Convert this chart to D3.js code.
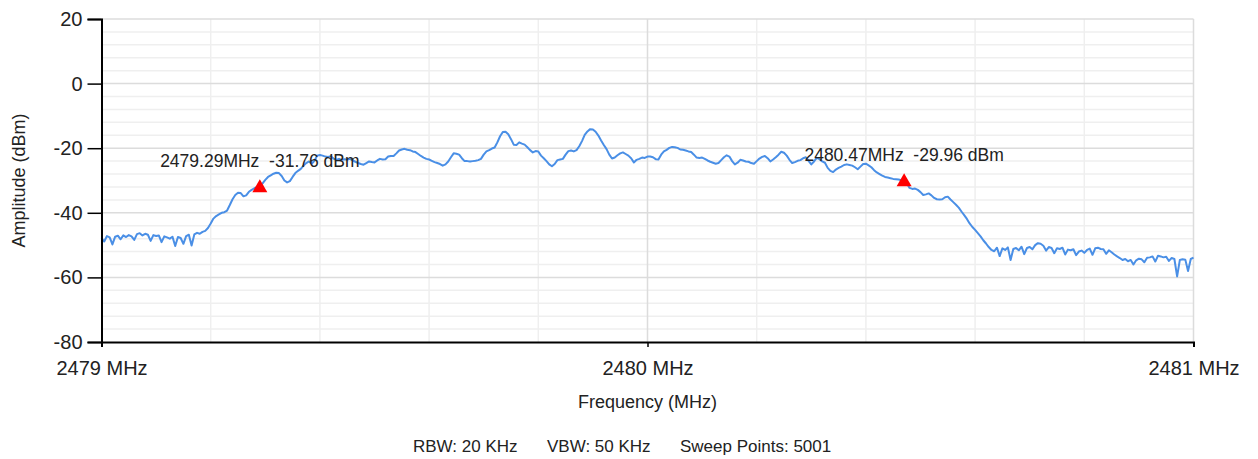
<!DOCTYPE html>
<html>
<head>
<meta charset="utf-8">
<script src="https://cdn.jsdelivr.net/npm/d3@7"></script>
<style>
  body { margin: 0; background: #fff; }
  svg { font-family: "Liberation Sans", Arial, sans-serif; }
</style>
</head>
<body>
<div id="chart"></div>
<script>
// sweep: 2479 .. 2481 MHz, one reading every 0.005 MHz
const sweepStart = 2479;
const sweepStep = 0.005;
const amplitude = [
  -47.8, -48.9, -47.2, -47.6, -49.8, -47.4, -47.1, -48.2, -47.0, -47.5,
  -46.9, -47.3, -48.4, -46.6, -46.3, -47.0, -46.5, -46.8, -48.7, -46.9,
  -47.2, -47.0, -49.1, -47.3, -47.6, -48.0, -47.4, -50.3, -47.5, -47.8,
  -49.6, -47.2, -46.8, -50.1, -46.7, -46.2, -46.5, -45.9, -45.6, -44.7,
  -43.3, -41.8, -41.0, -40.5, -40.0, -39.8, -39.3, -37.6, -35.8, -34.5,
  -33.8, -33.9, -34.9, -34.6, -33.5, -32.9, -32.4, -32.1, -31.8, -30.9,
  -29.8, -28.9, -28.4, -27.9, -27.6, -27.7, -28.6, -30.0, -30.6, -30.2,
  -28.9, -27.7, -27.0, -26.4, -25.4, -24.6, -24.1, -24.8, -23.9, -22.3,
  -22.1, -22.3, -22.6, -22.7, -22.5, -23.2, -23.6, -23.3, -23.6, -23.4,
  -23.5, -23.3, -23.8, -24.2, -24.6, -24.9, -25.1, -24.6, -24.1, -24.3,
  -24.4, -23.8, -23.3, -23.5, -23.4, -22.6, -22.4, -22.4, -21.6, -20.7,
  -20.4, -20.2, -20.5, -20.6, -21.0, -21.2, -21.8, -22.4, -22.9, -23.3,
  -23.5, -23.9, -24.3, -24.6, -24.9, -25.4, -25.0, -24.1, -22.8, -21.6,
  -21.7, -22.0, -23.1, -24.0, -24.0, -24.1, -24.0, -23.9, -23.7, -23.3,
  -22.0, -21.0, -20.6, -20.1, -19.8, -18.2, -16.3, -15.0, -14.9, -15.7,
  -17.2, -18.9, -19.0, -18.2, -18.6, -18.9, -19.7, -20.6, -21.3, -20.9,
  -21.0, -22.3, -23.1, -24.0, -25.0, -25.6, -24.9, -23.7, -23.5, -23.3,
  -22.0, -20.9, -20.7, -21.0, -20.6, -19.4, -17.8, -15.9, -14.8, -14.1,
  -14.2, -14.9, -16.1, -17.6, -19.0, -20.3, -22.0, -23.2, -22.9, -22.2,
  -21.6, -21.3, -21.8, -22.3, -23.1, -24.4, -23.6, -23.3, -22.9, -23.0,
  -22.6, -22.6, -22.8, -23.4, -23.5, -22.0, -21.0, -20.5, -19.9, -19.6,
  -19.7, -19.9, -20.4, -20.5, -20.7, -21.0, -21.2, -22.0, -22.9, -23.0,
  -22.9, -23.3, -23.8, -24.2, -24.5, -24.8, -24.6, -23.7, -22.8, -22.2,
  -22.6, -24.0, -25.0, -24.5, -23.6, -23.8, -24.1, -24.2, -24.6, -24.8,
  -24.0, -23.2, -22.7, -22.4, -23.1, -24.1, -23.5, -22.8, -22.0, -21.1,
  -21.4, -22.3, -23.6, -24.6, -24.3, -23.9, -23.7, -23.1, -22.8, -23.9,
  -25.0, -24.1, -23.0, -23.4, -24.1, -24.5, -26.1, -27.0, -27.4, -26.6,
  -26.1, -25.7, -25.2, -25.0, -25.2, -25.4, -25.9, -26.5, -25.7, -24.9,
  -24.8, -25.3, -25.9, -26.8, -27.5, -28.0, -28.5, -28.9, -29.1, -29.3,
  -29.5, -29.6, -29.7, -29.9, -30.0, -30.9, -32.3, -32.6, -32.5, -32.9,
  -33.6, -34.5, -34.3, -34.0, -34.6, -35.4, -35.8, -35.9, -35.8, -35.2,
  -35.0, -35.9, -36.7, -37.5, -38.4, -39.6, -40.7, -41.9, -43.3, -44.4,
  -45.3, -46.3, -47.3, -48.5, -49.5, -50.6, -51.5, -51.9, -50.8, -53.4,
  -51.0, -51.5, -50.7, -54.6, -51.2, -50.9, -51.6, -50.5, -52.8, -50.9,
  -50.6, -51.3, -50.0, -49.4, -49.6, -50.2, -51.7, -50.6, -50.9, -52.5,
  -51.0, -51.2, -50.8, -52.9, -51.4, -51.6, -51.3, -53.1, -52.0, -51.7,
  -52.4, -51.5, -51.1, -53.0, -51.0, -50.8, -51.2, -51.3, -52.7, -51.6,
  -52.2, -52.9, -53.5, -54.0, -54.6, -54.3, -55.0, -54.6, -56.0, -54.7,
  -54.2, -54.4, -55.3, -53.9, -53.8, -53.5, -55.1, -53.3, -53.5, -53.8,
  -53.6, -54.9, -54.0, -54.3, -59.7, -54.6, -54.4, -54.5, -58.0, -54.3,
  -53.9
];

const markerFreq = [2479.29, 2480.47];
const markerAmp = [-31.76, -29.96];

const freqTicks = [2479, 2480, 2481];
const freqGrid = [2479.2, 2479.4, 2479.6, 2479.8, 2480.2, 2480.4, 2480.6, 2480.8];
const ampTicks = [-80, -60, -40, -20, 0, 20];
const ampGrid = [-76, -72, -68, -64, -56, -52, -48, -44, -36, -32, -28, -24, -16, -12, -8, -4, 4, 8, 12, 16];

const footer = ["RBW: 20 KHz", "VBW: 50 KHz", "Sweep Points: 5001"];

const width = 1258, height = 459;
const plotLeft = 101.5, plotRight = 1193.5, plotTop = 19, plotBottom = 342;

const x = d3.scaleLinear().domain([2479, 2481]).range([plotLeft, plotRight]);
const y = d3.scaleLinear().domain([-80, 20]).range([plotBottom, plotTop]);

const svg = d3.select("#chart").append("svg")
    .attr("width", width)
    .attr("height", height);

// grid: minor first, then major
svg.append("g").selectAll("line")
    .data(ampGrid)
    .enter().append("line")
    .attr("x1", plotLeft).attr("x2", plotRight)
    .attr("y1", d => y(d)).attr("y2", d => y(d))
    .style("stroke", "#efefef").style("stroke-width", 1.5);

svg.append("g").selectAll("line")
    .data(freqGrid)
    .enter().append("line")
    .attr("x1", d => x(d)).attr("x2", d => x(d))
    .attr("y1", plotTop).attr("y2", plotBottom)
    .style("stroke", "#efefef").style("stroke-width", 1.5);

svg.append("g").selectAll("line")
    .data(ampTicks.slice(1))
    .enter().append("line")
    .attr("x1", plotLeft).attr("x2", plotRight)
    .attr("y1", d => y(d)).attr("y2", d => y(d))
    .style("stroke", "#dcdcdc").style("stroke-width", 1.5);

svg.append("g").selectAll("line")
    .data(freqTicks.slice(1))
    .enter().append("line")
    .attr("x1", d => x(d)).attr("x2", d => x(d))
    .attr("y1", plotTop).attr("y2", plotBottom)
    .style("stroke", "#dcdcdc").style("stroke-width", 1.5);

// trace
const trace = d3.line()
    .x((d, i) => x(sweepStart + i * sweepStep))
    .y(d => y(d));

svg.append("path")
    .datum(amplitude)
    .attr("d", trace)
    .attr("fill", "none")
    .style("stroke", "#4a8fe6")
    .style("stroke-width", 2)
    .style("stroke-linejoin", "round");

// axes
svg.append("g")
    .attr("transform", "translate(" + plotLeft + ",0)")
    .call(d3.axisLeft(y).tickValues(ampTicks).tickSize(14).tickPadding(5).tickFormat(d => String(d)))
    .call(g => g.select(".domain").style("stroke", "#000").style("stroke-width", 2))
    .call(g => g.selectAll(".tick line").style("stroke", "#000").style("stroke-width", 1.5))
    .call(g => g.selectAll("text").style("font-size", "20px").style("fill", "#222")
        .style("font-family", "'Liberation Sans', Arial, sans-serif"));

svg.append("g")
    .attr("transform", "translate(0," + plotBottom + ")")
    .call(d3.axisBottom(x).tickValues(freqTicks).tickSize(5).tickSizeOuter(5).tickPadding(14).tickFormat(d => d + " MHz"))
    .call(g => g.select(".domain").style("stroke", "#000").style("stroke-width", 2))
    .call(g => g.selectAll(".tick line").style("stroke", "#000").style("stroke-width", 1.5))
    .call(g => g.selectAll("text").style("font-size", "20px").style("fill", "#222")
        .style("font-family", "'Liberation Sans', Arial, sans-serif"));

// markers
const markers = svg.append("g").selectAll("g")
    .data(markerFreq)
    .enter().append("g")
    .attr("transform", (d, i) => "translate(" + x(d) + "," + y(markerAmp[i]) + ")");

markers.append("path")
    .attr("d", "M0,-7L7.5,6L-7.5,6Z")
    .attr("fill", "#ff0000");

markers.append("text")
    .attr("y", -19)
    .attr("text-anchor", "middle")
    .style("white-space", "pre")
    .style("font-size", "17.5px")
    .style("fill", "#222")
    .text((d, i) => d.toFixed(2) + "MHz  " + markerAmp[i].toFixed(2) + " dBm");

// titles
svg.append("text")
    .attr("x", (plotLeft + plotRight) / 2)
    .attr("y", 408)
    .attr("text-anchor", "middle")
    .style("font-size", "18px")
    .style("fill", "#222")
    .text("Frequency (MHz)");

svg.append("text")
    .attr("transform", "translate(25," + ((plotTop + plotBottom) / 2) + ") rotate(-90)")
    .attr("text-anchor", "middle")
    .style("font-size", "18px")
    .style("fill", "#222")
    .text("Amplitude (dBm)");

const footerX = [413, 547, 680];
svg.append("g").selectAll("text")
    .data(footer)
    .enter().append("text")
    .attr("x", (d, i) => footerX[i])
    .attr("y", 452)
    .style("font-size", "17px")
    .style("fill", "#222")
    .text(d => d);
</script>
</body>
</html>
